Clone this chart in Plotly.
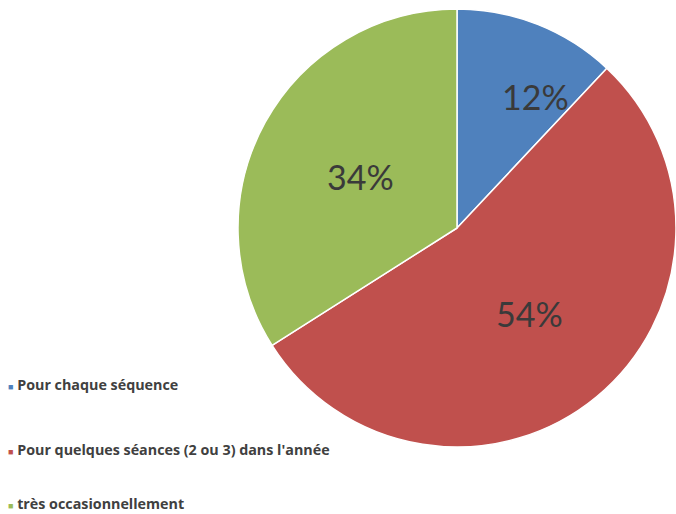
import math
import plotly.graph_objects as go

labels = ["Pour chaque séquence", "Pour quelques séances (2 ou 3) dans l'année", "très occasionnellement"]
values = [12, 54, 34]
colors = ["#4F81BD", "#C0504D", "#9BBB59"]

W, H = 676, 514
CX, CY, R = 457, 228, 219          # pie centre / radius in pixels (layout)
label_r_frac = [0.70, 0.51, 0.50]   # radial placement of data labels (style)
label_shift_deg = [9.3, -0.7, -0.6] # angular nudge of data labels (style)

fig = go.Figure()
fig.add_trace(go.Pie(
    labels=labels,
    values=values,
    sort=False,
    direction="clockwise",
    rotation=0,
    marker=dict(colors=colors, line=dict(color="white", width=1.5)),
    textinfo="none",
    domain=dict(x=[(CX - R) / W, 1.0], y=[1 - (CY + R) / H, 1 - (CY - R) / H]),
    showlegend=False,
    hoverinfo="label+percent",
))

# data labels placed from the data (mid-angle of each slice)
total = sum(values)
cum = 0
for v, frac, shift in zip(values, label_r_frac, label_shift_deg):
    mid = (cum + v / 2) / total * 360 + shift
    cum += v
    dx = R * frac * math.sin(math.radians(mid))
    dy = -R * frac * math.cos(math.radians(mid))   # screen pixels, down positive
    fig.add_annotation(
        x=(CX + dx) / W, y=1 - (CY + dy) / H, xref="paper", yref="paper",
        xanchor="center", yanchor="middle", showarrow=False,
        text=f"{round(v / total * 100)}%",
        font=dict(family="Lato, sans-serif", size=34, color="#3a3a3a"),
    )

legend_y = [384, 449, 503]
for lab, col, yy in zip(labels, colors, legend_y):
    fig.add_annotation(
        x=7 / W, y=1 - yy / H, xref="paper", yref="paper",
        xanchor="left", yanchor="middle", showarrow=False, borderpad=0,
        text=f"<span style='color:{col};font-size:9px'>■</span> <b>{lab}</b>",
        font=dict(family="Open Sans, sans-serif", size=14.3, color="#404040"),
    )

fig.update_layout(
    width=W, height=H,
    margin=dict(l=0, r=0, t=0, b=0),
    paper_bgcolor="white",
    plot_bgcolor="white",
)

fig.write_html("out.html")
